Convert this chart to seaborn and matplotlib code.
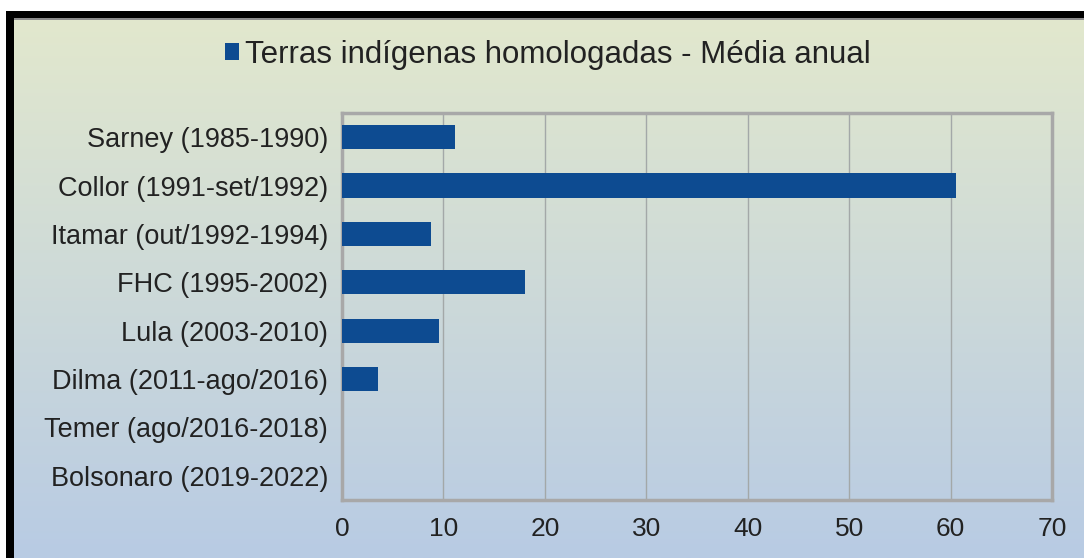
import numpy as np
import pandas as pd
import matplotlib
matplotlib.use("Agg")
import matplotlib.pyplot as plt
from matplotlib.patches import Rectangle
import seaborn as sns

categories = ["Sarney (1985-1990)", "Collor (1991-set/1992)", "Itamar (out/1992-1994)",
              "FHC (1995-2002)", "Lula (2003-2010)", "Dilma (2011-ago/2016)",
              "Temer (ago/2016-2018)", "Bolsonaro (2019-2022)"]
values = [11.1, 60.5, 8.8, 18.0, 9.6, 3.5, 0, 0]
series_name = "Terras indígenas homologadas - Média anual"
xticks = [0, 10, 20, 30, 40, 50, 60, 70]

sns.set_theme(style="white")
plt.rcParams['font.family'] = ['Liberation Sans', 'DejaVu Sans']

W, H = 1084, 558
fig = plt.figure(figsize=(W / 100, H / 100), dpi=100)
fig.patch.set_facecolor("white")

# gradient background
bg = fig.add_axes([14 / W, 0, 1 - 14 / W, (H - 18) / H], zorder=0)
top = np.array([0xE2, 0xE8, 0xCD]) / 255
bot = np.array([0xB8, 0xCB, 0xE4]) / 255
t = np.linspace(0, 1, 256)[:, None]
grad = (top[None, :] * (1 - t) + bot[None, :] * t)[:, None, :]
bg.imshow(grad, aspect="auto", extent=[0, 1, 0, 1])
bg.set_axis_off()

# black border (top and left)
fig.patches.append(Rectangle((6 / W, (H - 18) / H), 1 - 6 / W, 7 / H, transform=fig.transFigure,
                             facecolor="black", edgecolor="none", zorder=5))
fig.patches.append(Rectangle((6 / W, 0), 8 / W, (H - 11) / H, transform=fig.transFigure,
                             facecolor="black", edgecolor="none", zorder=5))
fig.patches.append(Rectangle((14 / W, (H - 20) / H), 1 - 14 / W, 2 / H, transform=fig.transFigure,
                             facecolor="#8C8C8C", edgecolor="none", zorder=5))

left, right, ytop, ybot = 342, 1052, 113, 500
ax = fig.add_axes([left / W, (H - ybot) / H, (right - left) / W, (ybot - ytop) / H], zorder=2)
ax.set_facecolor("none")

df = pd.DataFrame({"cat": categories, "val": values})
sns.barplot(data=df, x="val", y="cat", color="#0D4B91", saturation=1, width=0.5,
            ax=ax, label=series_name, zorder=3, linewidth=0)

ax.set_xlim(0, 70)
ax.set_xticks(xticks)
ax.set_xticklabels([str(v) for v in xticks], fontsize=19, color="#222222")
ax.set_yticklabels(categories, fontsize=19.5, color="#222222")
ax.set_xlabel("")
ax.set_ylabel("")
ax.tick_params(axis="x", length=0, pad=12)
ax.tick_params(axis="y", length=0, pad=10)
ax.grid(axis="x", color="#A3A8A8", linewidth=1)
ax.set_axisbelow(True)
for s in ax.spines.values():
    s.set_visible(True)
    s.set_color("#A8A8A8")
    s.set_linewidth(2.5)

leg = ax.legend(loc="center", bbox_to_anchor=(548 / W, 1 - 55 / H), bbox_transform=fig.transFigure,
                frameon=False, fontsize=22.5, handlelength=0.45, handleheight=0.45, handletextpad=0.2)
for txt in leg.get_texts():
    txt.set_color("#222222")

fig.savefig("out.png", dpi=100)
